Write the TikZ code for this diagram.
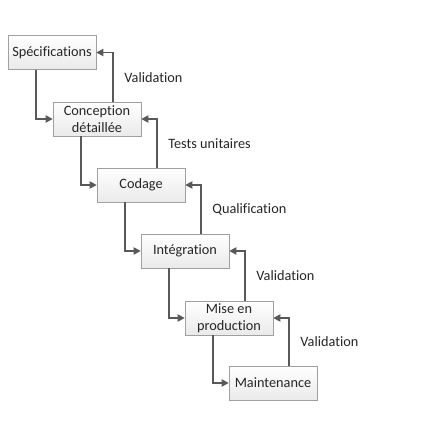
\documentclass[tikz,border=0pt]{standalone}
\usepackage{fontspec}
\setmainfont{Carlito}[Ligatures=NoCommon]
\usepackage{xcolor}
\usepackage{tikz}
\usetikzlibrary{arrows.meta, calc}
\definecolor{wfLine}{RGB}{ 89, 89, 89}
\definecolor{wfEdge}{RGB}{160,160,160}
\definecolor{wfFill}{RGB}{234,234,234}
\definecolor{wfText}{RGB}{ 38, 38, 38}

\begin{document}
\begin{tikzpicture}[
    x=0.03cm, y=-0.03cm,
    phase/.style={draw=wfEdge, top color=white, bottom color=wfFill,
                  minimum width=2.64cm, minimum height=1.02cm, inner sep=1pt,
                  align=center, text=wfText, font=\fontsize{12.2}{14.2}\selectfont},
    arr/.style={-{Triangle[length=6pt, width=6pt]}, wfLine, line width=1.4pt},
    lbl/.style={anchor=west, xshift=0.2cm, text=wfText, font=\fontsize{12.2}{14}\selectfont}
  ]
  \useasboundingbox (0,0) rectangle (440,445);
  % phases of the cascade
  \node[phase] (spec) at (52,52.5)  {Spécifications};
  \node[phase] (conc) at (97,119)   {Conception\\détaillée};
  \node[phase] (code) at (141,185)  {Codage};
  \node[phase] (integ) at (185,251) {Intégration};
  \node[phase] (prod) at (229,318)  {Mise en\\production};
  \node[phase] (maint) at (273,383) {Maintenance};
  % going down
  \draw[arr] ($(spec.south)+(-16,0)$) |- (conc.west);
  \draw[arr] ($(conc.south)+(-16,0)$) |- (code.west);
  \draw[arr] ($(code.south)+(-16,0)$) |- (integ.west);
  \draw[arr] ($(integ.south)+(-16,0)$) |- (prod.west);
  \draw[arr] ($(prod.south)+(-16,0)$) |- (maint.west);
  % going back up
  \draw[arr] ($(conc.north)+(16,0)$) |- (spec.east)
    node[lbl, pos=0.25] {Validation};
  \draw[arr] ($(code.north)+(16,0)$) |- (conc.east)
    node[lbl, pos=0.25] {Tests unitaires};
  \draw[arr] ($(integ.north)+(16,0)$) |- (code.east)
    node[lbl, pos=0.25] {Qualification};
  \draw[arr] ($(prod.north)+(16,0)$) |- (integ.east)
    node[lbl, pos=0.25] {Validation};
  \draw[arr] ($(maint.north)+(16,0)$) |- (prod.east)
    node[lbl, pos=0.25] {Validation};
\end{tikzpicture}
\end{document}
